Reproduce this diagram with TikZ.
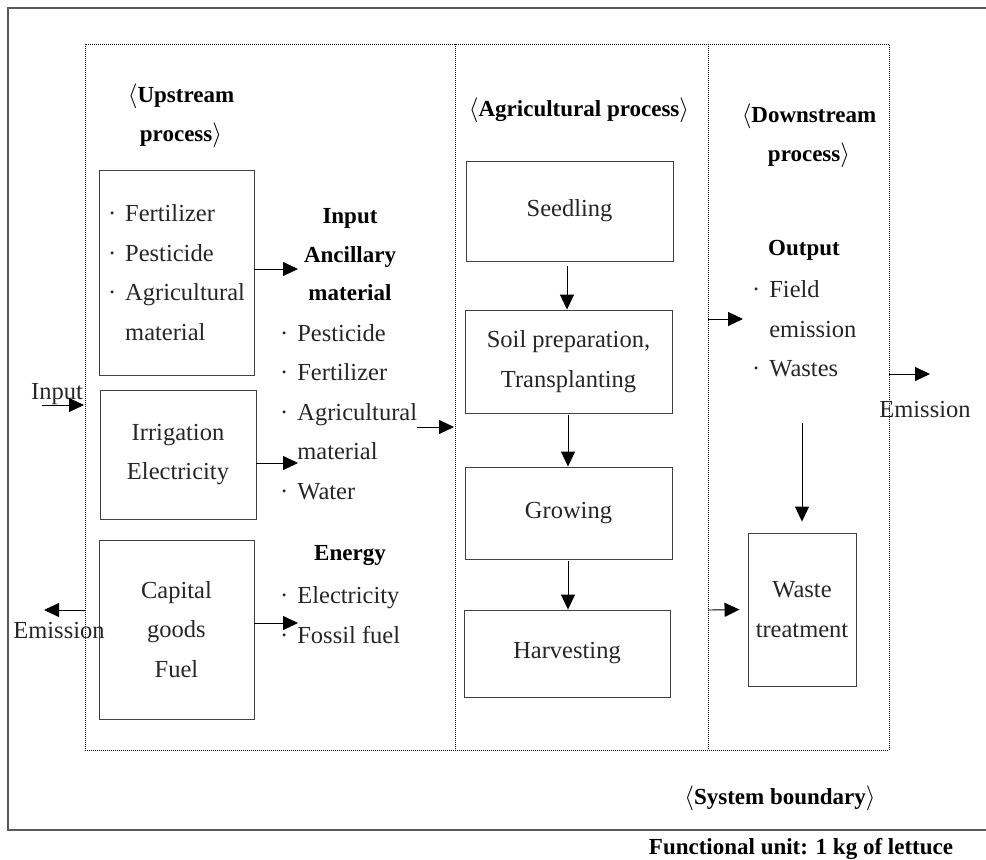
\documentclass[tikz,border=0pt]{standalone}
\usepackage{fontspec}
\setmainfont{Liberation Serif}
\usetikzlibrary{arrows.meta}
\newcommand{\bul}{·\hspace{9pt}}
\newcommand{\ind}{\phantom{·}\hspace{9pt}}
\begin{document}
\begin{tikzpicture}[x=1pt,y=-1pt,
  box/.style={draw=black!75, line width=0.9pt, inner sep=0pt, align=center,
    font=\fontsize{24.5}{39.5}\selectfont, text=black!85},
  txt/.style={inner sep=0pt, align=left, font=\fontsize{24.5}{39.5}\selectfont, text=black!85},
  hd/.style={inner sep=0pt, align=center, font=\fontsize{23}{38.5}\selectfont\bfseries},
  arr/.style={-{Triangle[length=15pt,width=14pt]}, line width=0.9pt},
  bound/.style={line width=0.8pt, dash pattern=on 1pt off 1pt}]
\useasboundingbox (0,0) rectangle (986,860);
% frame and system boundary
\draw[black!65, line width=1.3pt] (986,8) -- (8,8) -- (8,830) -- (986,830);
\draw[bound] (85,44) rectangle (889,750);
\draw[bound] (455,44) -- (455,750);
\draw[bound] (708,44) -- (708,750);
% upstream process
\node[hd] (uphead) at (181,116) {$\langle$Upstream\\process$\rangle$};
\node[box, align=left, minimum width=155pt, minimum height=205pt] (fert) at (176.5,272.5)
  {\bul Fertilizer\\\bul Pesticide\\\bul Agricultural\\\ind material};
\node[box, minimum width=156pt, minimum height=129pt] (irr) at (178,454.5) {Irrigation\\Electricity};
\node[box, minimum width=155pt, minimum height=179pt] (cap) at (176.5,629.5) {Capital\\goods\\Fuel};
\node[hd] (anchead) at (350,255) {Input\\Ancillary\\material};
\node[txt, anchor=west] (anclist) at (280,412)
  {\bul Pesticide\\\bul Fertilizer\\\bul Agricultural\\\ind material\\\bul Water};
\node[hd] (enhead) at (350,556) {Energy};
\node[txt, anchor=west] (enlist) at (280,615) {\bul Electricity\\\bul Fossil fuel};
\node[txt] (input) at (57,394) {Input};
\node[txt] (emleft) at (59,630) {Emission};
% agricultural process
\node[hd] (agrihead) at (579,110) {$\langle$Agricultural process$\rangle$};
\node[box, minimum width=207pt, minimum height=100pt] (seed) at (569.5,211) {Seedling};
\node[box, minimum width=207pt, minimum height=103pt] (soil) at (568.5,361.5) {Soil preparation,\\Transplanting};
\node[box, minimum width=207pt, minimum height=92pt] (grow) at (568.5,513) {Growing};
\node[box, minimum width=206pt, minimum height=87pt] (harv) at (567,653.5) {Harvesting};
% downstream process
\node[hd] (downhead) at (809,136) {$\langle$Downstream\\process$\rangle$};
\node[hd] (outhead) at (804,250) {Output};
\node[txt, anchor=west] (outlist) at (752,329) {\bul Field\\\ind emission\\\bul Wastes};
\node[box, minimum width=108pt, minimum height=153pt] (waste) at (802,609.5) {Waste\\treatment};
\node[txt] (emright) at (925,410) {Emission};
\node[hd] (sysb) at (780,798) {$\langle$System boundary$\rangle$};
\node[hd] (fu) at (801,849) {Functional unit: 1 kg of lettuce};
% free ends
\coordinate (ancin) at (298,269);
\coordinate (irrend) at (298,463);
\coordinate (capend) at (298,623);
\coordinate (inS) at (42,405);
\coordinate (inE) at (84,405);
\coordinate (emS) at (85,610);
\coordinate (emE) at (44,610);
\coordinate (agS) at (417,427);
\coordinate (agE) at (454,427);
\coordinate (outS) at (708,319);
\coordinate (outE) at (743,319);
\coordinate (wdS) at (802,423);
\coordinate (wS) at (708,610);
\coordinate (erS) at (889,374);
\coordinate (erE) at (930,374);
% arrows
\draw[arr] (fert.east |- ancin) -- (ancin);
\draw[arr] (irr.east |- irrend) -- (irrend);
\draw[arr] (cap.east |- capend) -- (capend);
\draw[arr] (inS) -- (inE);
\draw[arr] (emS) -- (emE);
\draw[arr] (agS) -- (agE);
\draw[arr, shorten <=5pt] (seed.south -| 567,0) -- (soil.north -| 567,0);
\draw[arr, shorten <=2pt] (soil.south -| 568,0) -- (grow.north -| 568,0);
\draw[arr, shorten <=2pt] (grow.south -| 568,0) -- (harv.north -| 568,0);
\draw[arr] (outS) -- (outE);
\draw[arr, shorten >=11pt] (wdS) -- (waste.north);
\draw[arr, shorten >=8pt] (wS) -- (waste.west);
\draw[arr] (erS) -- (erE);
\end{tikzpicture}
\end{document}
